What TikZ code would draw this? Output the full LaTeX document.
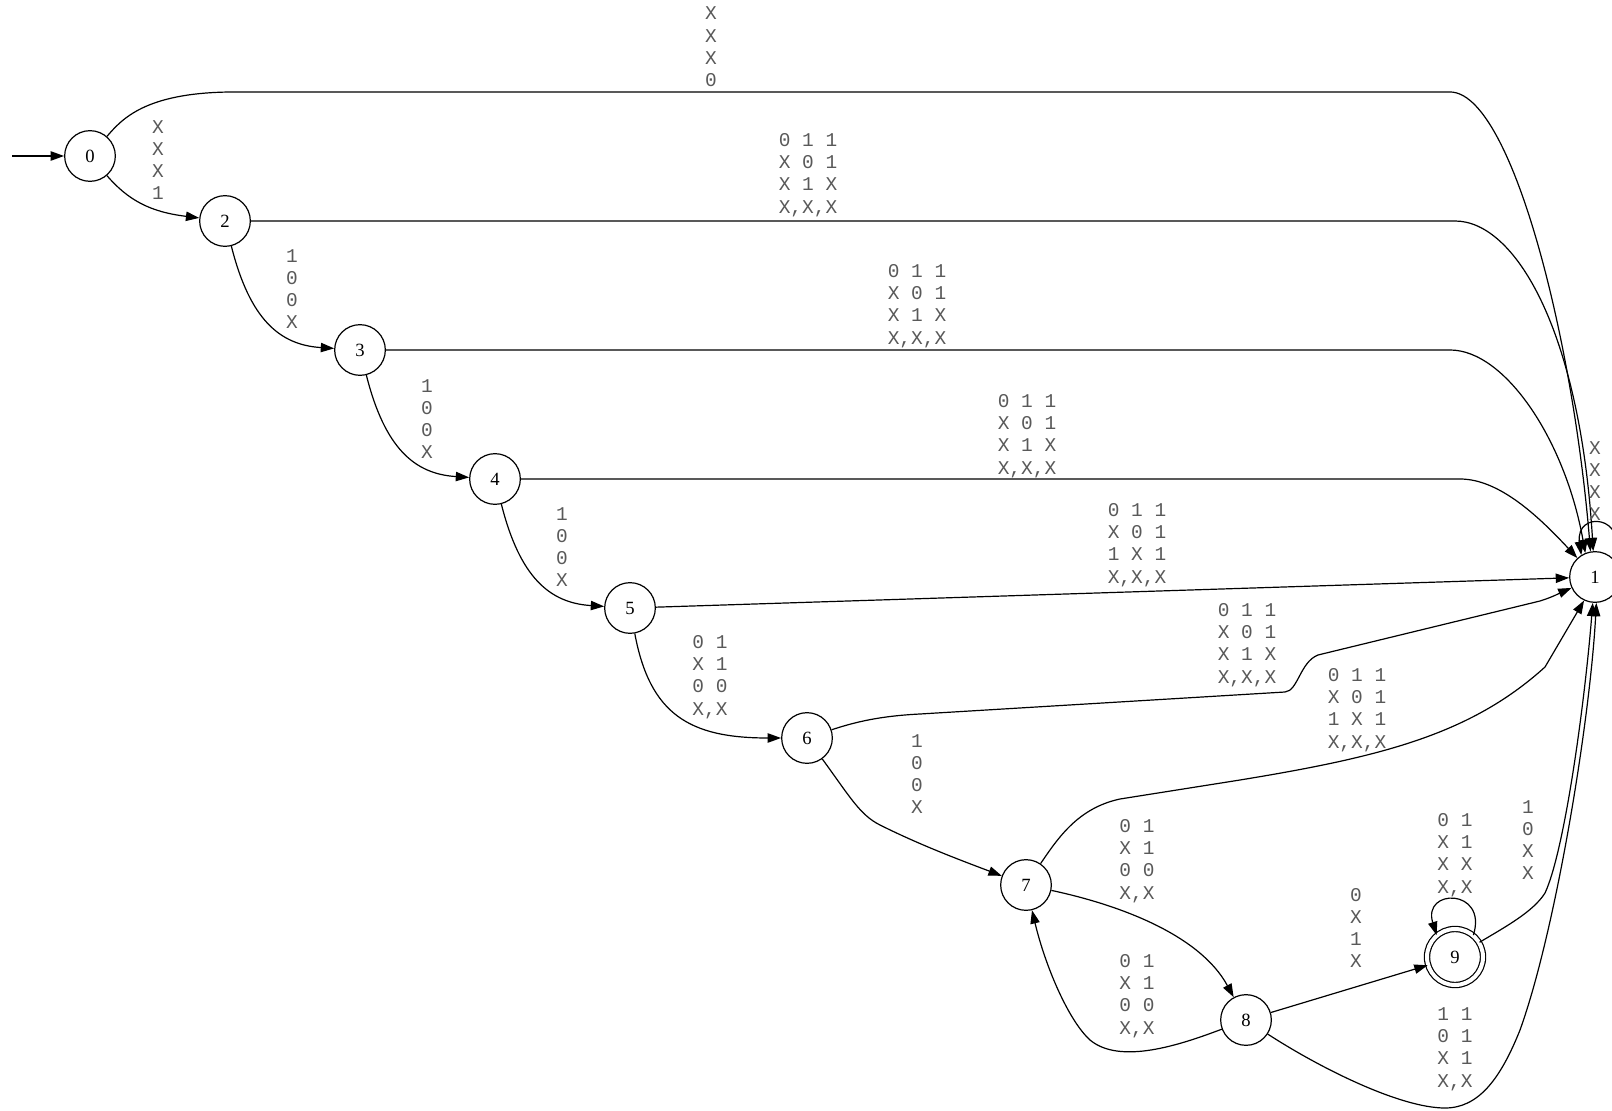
\documentclass[tikz,border=0pt]{standalone}
\usepackage{fontspec}
\setmainfont{Liberation Serif}
\setmonofont{Liberation Mono}
\usetikzlibrary{arrows.meta}

\begin{document}
\begin{tikzpicture}[x=0.75bp,y=-0.75bp,line width=0.9bp,line join=miter,
		>={Triangle[length=10bp,width=7bp]},
		state/.style={draw,circle,minimum size=38bp,inner sep=0pt,font=\fontsize{14bp}{16bp}\selectfont},
		final/.style={state,double,double distance=3bp,minimum size=42bp},
		lbl/.style={font=\fontsize{14.6bp}{16.7bp}\ttfamily,text=black!65,align=center,inner sep=0pt}]
	\useasboundingbox (0,0) rectangle (1612,1111);
	% states
	\node[state] (n0) at (90,156) {0};
	\node[state] (n2) at (225,221) {2};
	\node[state] (n3) at (360,350) {3};
	\node[state] (n4) at (495,479) {4};
	\node[state] (n5) at (630,608) {5};
	\node[state] (n6) at (807,738) {6};
	\node[state] (n7) at (1026,885) {7};
	\node[state] (n8) at (1246,1020) {8};
	\node[final] (n9) at (1455,957) {9};
	\node[state] (n1) at (1595,577) {1};
	\coordinate (start) at (12,156);
	\draw[->] (start) -- (n0);
	% transitions
	\draw[->] (n0) .. controls (122,119) and (145,93) .. (230,92) -- (1450,92)
		.. controls (1510,92) and (1572,330) .. (n1.100);
	\draw[->] (n0) .. controls (128,200) and (150,212) .. (n2);
	\draw[->] (n2) -- (1455,221) .. controls (1515,221) and (1580,330) .. (n1.94);
	\draw[->] (n3) -- (1450,350) .. controls (1505,350) and (1565,440) .. (n1.112);
	\draw[->] (n4) -- (1460,479) .. controls (1500,479) and (1540,518) .. (n1.133);
	\draw[->] (n5) -- (n1);
	\foreach \a/\b in {2/3,3/4,4/5}{
		\draw[->] (n\a) .. controls +(25,99) and +(-80,-5) .. (n\b);
	}
	\draw[->] (n5) .. controls +(20,107) and +(-117,0) .. (n6);
	\draw[->] (n6) .. controls (855,722) and (880,716) .. (920,714) -- (1285,692)
		.. controls (1298,691) and (1300,662) .. (1318,655) -- (1540,601)
		.. controls (1553,597) and (1562,592) .. (n1.205);
	\draw[->] (n6) .. controls (850,797) and (860,815) .. (880,825)
		.. controls (920,845) and (960,860) .. (n7);
	\draw[->] (n7) .. controls (1058,838) and (1078,808) .. (1120,799) -- (1240,780)
		.. controls (1380,757) and (1470,735) .. (1545,667) -- (n1.245);
	\draw[->] (n7) .. controls (1120,905) and (1200,935) .. (n8);
	\draw[->] (n8) .. controls (1180,1045) and (1120,1065) .. (1090,1040)
		.. controls (1068,1020) and (1045,965) .. (n7);
	\draw[->] (n8) -- (n9);
	\draw[->] (n8) .. controls (1320,1068) and (1400,1108) .. (1445,1108)
		.. controls (1478,1108) and (1500,1080) .. (1520,1030)
		.. controls (1556,930) and (1590,720) .. (n1.273);
	\draw[->] (n9) .. controls (1505,927) and (1533,912) .. (1545,893)
		.. controls (1565,850) and (1585,700) .. (n1.265);
	\draw[->] (n9.50) .. controls (1488,888) and (1422,888) .. (n9.130);
	\draw[->] (n1.45) .. controls (1630,515) and (1575,510) .. (n1.122);
	% labels
	\node[lbl] (l01) at (711,47) {X\\X\\X\\0};
	\node[lbl] (l02) at (158,160) {X\\X\\X\\1};
	\foreach \a/\x/\y in {23/292/289,34/427/419,45/562/547}{
		\node[lbl] (l\a) at (\x,\y) {1\\0\\0\\X};
	}
	\foreach \a/\x/\y in {21/808/175,31/917/306,41/1027/436,61/1247/645}{
		\node[lbl] (l\a) at (\x,\y) {0 1 1\\X 0 1\\X 1 X\\X,X,X};
	}
	\node[lbl] (l51) at (1137,545) {0 1 1\\X 0 1\\1 X 1\\X,X,X};
	\node[lbl] (l71) at (1357,710) {0 1 1\\X 0 1\\1 X 1\\X,X,X};
	\node[lbl] (l56) at (710,677) {0 1\\X 1\\0 0\\X,X};
	\node[lbl] (l67) at (917,774) {1\\0\\0\\X};
	\node[lbl] (l78) at (1137,861) {0 1\\X 1\\0 0\\X,X};
	\node[lbl] (l87) at (1137,996) {0 1\\X 1\\0 0\\X,X};
	\node[lbl] (l89) at (1356,928) {0\\X\\1\\X};
	\node[lbl] (l99) at (1455,855) {0 1\\X 1\\X X\\X,X};
	\node[lbl] (l91) at (1528,840) {1\\0\\X\\X};
	\node[lbl] (l81) at (1455,1049) {1 1\\0 1\\X 1\\X,X};
	\node[lbl] (l11) at (1595,481) {X\\X\\X\\X};
\end{tikzpicture}
\end{document}
